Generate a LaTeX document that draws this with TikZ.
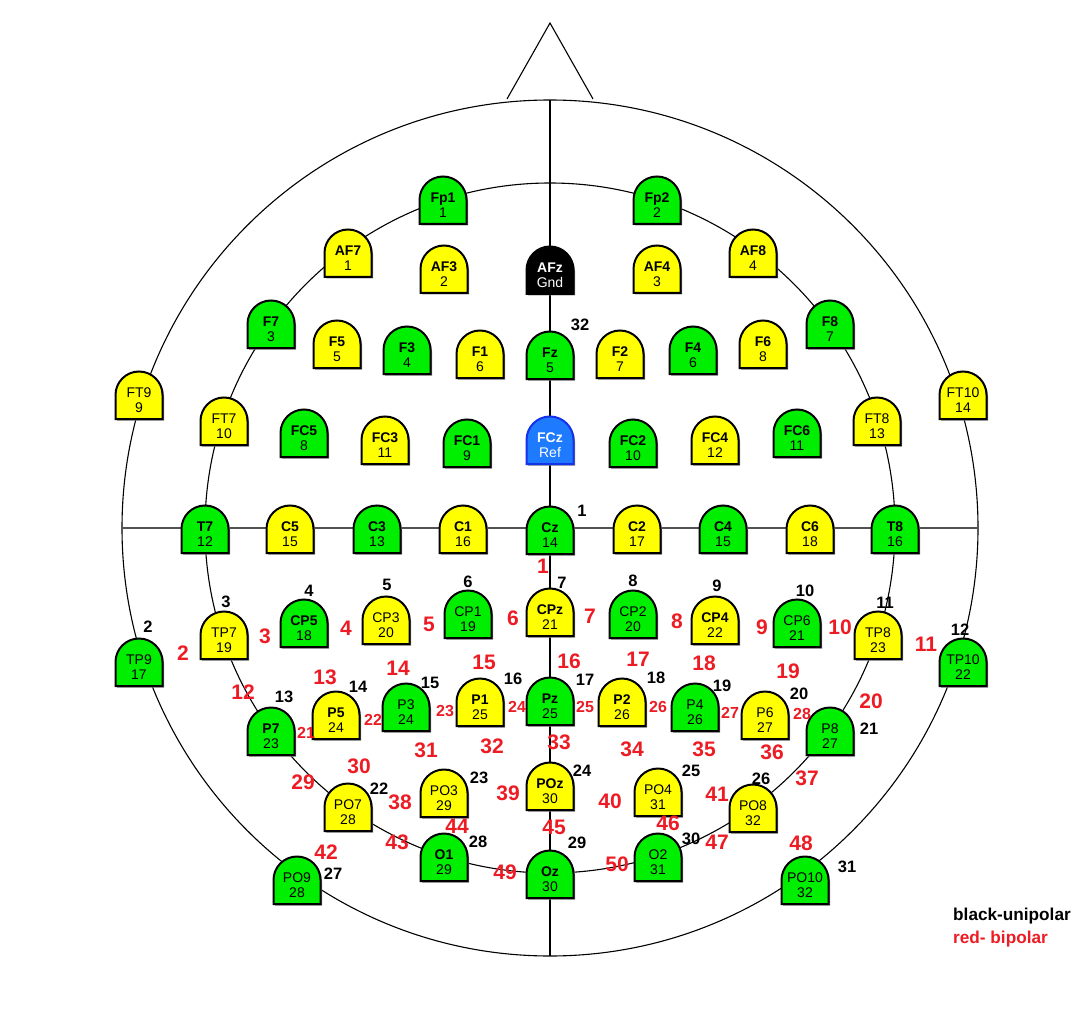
\documentclass[tikz,border=0pt]{standalone}
\usepackage{fontspec}
\setmainfont{Liberation Sans}
\definecolor{egreen}{RGB}{0,238,0}
\definecolor{eyellow}{RGB}{255,255,0}
\definecolor{eblue}{RGB}{30,122,255}
\definecolor{eblueb}{RGB}{20,50,235}
\definecolor{ered}{RGB}{237,28,36}
\definecolor{eshad}{RGB}{130,130,130}
\newcommand{\enfont}{\fontsize{14}{15}\selectfont}
\newcommand{\elec}[6][]{%
  \fill[eshad] (#2-22,#3+25.5) -- (#2-22,#3+1.5) arc[start angle=180,end angle=360,radius=23.5] -- (#2+25,#3+25.5) -- cycle;
  \path[eshape,#6] (#2-23.5,#3+24) -- (#2-23.5,#3) arc[start angle=180,end angle=360,radius=23.5] -- (#2+23.5,#3+24) -- cycle;
  \node[ename,#1] (#4) at (#2,#3+2.5) {#4};
  \node[enum,#1] (#4n) at (#2,#3+17.5) {#5};
}
\begin{document}
\begin{tikzpicture}[x=1pt,y=-1pt,
  headline/.style={draw=black,line width=1.1pt},
  axisH/.style={draw=black!68,line width=2.4pt},
  eshape/.style={draw=black,line width=2pt},
  gr/.style={fill=egreen},
  ye/.style={fill=eyellow},
  bkf/.style={fill=black},
  blf/.style={fill=eblue,draw=eblueb},
  ename/.style={anchor=base,inner sep=0pt,font=\enfont\bfseries},
  enum/.style={anchor=base,inner sep=0pt,font=\enfont},
  reg/.style={font=\enfont},
  wt/.style={text=white},
  uni/.style={inner sep=0pt,font=\fontsize{16.5}{17}\selectfont\bfseries,text=black},
  bip/.style={inner sep=0pt,font=\fontsize{21}{23}\selectfont\bfseries,text=ered},
  bips/.style={inner sep=0pt,font=\fontsize{16}{17}\selectfont\bfseries,text=ered},
  legend/.style={anchor=west,inner sep=0pt,font=\fontsize{17.2}{19}\selectfont\bfseries}
]
\useasboundingbox (0,0) rectangle (1092,1024);
\fill[white] (0,0) rectangle (1092,1024);
% head
\draw[headline] (550,528) circle[radius=428];
\draw[headline] (550,528) circle[radius=345];
\draw[axisH] (122,528) -- (978,528);
\draw[headline] (550,100) -- (550,956);
\draw[headline] (507,99) -- (550,23) -- (593,99);
% electrodes
\elec{443}{200}{Fp1}{1}{gr}
\elec{657}{200}{Fp2}{2}{gr}
\elec{348}{253}{AF7}{1}{ye}
\elec{444}{269}{AF3}{2}{ye}
\elec[wt]{550}{270}{AFz}{Gnd}{bkf}
\elec{657}{269}{AF4}{3}{ye}
\elec{753}{253}{AF8}{4}{ye}
\elec{271}{324}{F7}{3}{gr}
\elec{337}{344}{F5}{5}{ye}
\elec{407}{350}{F3}{4}{gr}
\elec{480}{354}{F1}{6}{ye}
\elec{550}{355}{Fz}{5}{gr}
\elec{620}{354}{F2}{7}{ye}
\elec{693}{350}{F4}{6}{gr}
\elec{763}{344}{F6}{8}{ye}
\elec{830}{324}{F8}{7}{gr}
\elec[reg]{139}{395}{FT9}{9}{ye}
\elec[reg]{224}{421}{FT7}{10}{ye}
\elec{304}{433}{FC5}{8}{gr}
\elec{385}{440}{FC3}{11}{ye}
\elec{467}{443}{FC1}{9}{gr}
\elec[wt]{550}{440}{FCz}{Ref}{blf}
\elec{633}{443}{FC2}{10}{gr}
\elec{715}{440}{FC4}{12}{ye}
\elec{797}{433}{FC6}{11}{gr}
\elec[reg]{877}{421}{FT8}{13}{ye}
\elec[reg]{963}{395}{FT10}{14}{ye}
\elec{205}{529}{T7}{12}{gr}
\elec{290}{529}{C5}{15}{ye}
\elec{377}{529}{C3}{13}{gr}
\elec{463}{529}{C1}{16}{ye}
\elec{550}{530}{Cz}{14}{gr}
\elec{637}{529}{C2}{17}{ye}
\elec{723}{529}{C4}{15}{gr}
\elec{810}{529}{C6}{18}{ye}
\elec{895}{529}{T8}{16}{gr}
\elec[reg]{139}{662}{TP9}{17}{gr}
\elec[reg]{224}{635}{TP7}{19}{ye}
\elec{304}{623}{CP5}{18}{gr}
\elec[reg]{386}{620}{CP3}{20}{ye}
\elec[reg]{468}{614}{CP1}{19}{gr}
\elec{550}{612}{CPz}{21}{ye}
\elec[reg]{633}{614}{CP2}{20}{gr}
\elec{715}{620}{CP4}{22}{ye}
\elec[reg]{797}{623}{CP6}{21}{gr}
\elec[reg]{878}{635}{TP8}{23}{ye}
\elec[reg]{963}{662}{TP10}{22}{gr}
\elec{271}{731}{P7}{23}{gr}
\elec{336}{715}{P5}{24}{ye}
\elec[reg]{406}{707}{P3}{24}{gr}
\elec{480}{702}{P1}{25}{ye}
\elec{550}{701}{Pz}{25}{gr}
\elec{622}{702}{P2}{26}{ye}
\elec[reg]{695}{707}{P4}{26}{gr}
\elec[reg]{765}{715}{P6}{27}{ye}
\elec[reg]{830}{731}{P8}{27}{gr}
\elec[reg]{297}{880}{PO9}{28}{gr}
\elec[reg]{348}{807}{PO7}{28}{ye}
\elec[reg]{444}{793}{PO3}{29}{ye}
\elec{550}{786}{POz}{30}{ye}
\elec[reg]{658}{792}{PO4}{31}{ye}
\elec[reg]{753}{808}{PO8}{32}{ye}
\elec[reg]{805}{880}{PO10}{32}{gr}
\elec{444}{857}{O1}{29}{gr}
\elec{550}{874}{Oz}{30}{gr}
\elec[reg]{658}{857}{O2}{31}{gr}
% unipolar (black) numbers
\node[uni] (u32) at (580,325) {32};
\node[uni] (u1) at (582,511) {1};
\node[uni] (u2) at (148,627) {2};
\node[uni] (u3) at (226,602) {3};
\node[uni] (u4) at (309,591) {4};
\node[uni] (u5) at (387,585) {5};
\node[uni] (u6) at (468,582) {6};
\node[uni] (u7) at (562,583) {7};
\node[uni] (u8) at (633,581) {8};
\node[uni] (u9) at (717,586) {9};
\node[uni] (u10) at (805,591) {10};
\node[uni] (u11) at (885,603) {11};
\node[uni] (u12) at (960,630) {12};
\node[uni] (u13) at (284,697) {13};
\node[uni] (u14) at (358,687) {14};
\node[uni] (u15) at (430,683) {15};
\node[uni] (u16) at (513,679) {16};
\node[uni] (u17) at (585,680) {17};
\node[uni] (u18) at (656,678) {18};
\node[uni] (u19) at (722,686) {19};
\node[uni] (u20) at (799,694) {20};
\node[uni] (u21) at (869,729) {21};
\node[uni] (u22) at (379,789) {22};
\node[uni] (u23) at (479,778) {23};
\node[uni] (u24) at (582,771) {24};
\node[uni] (u25) at (691,771) {25};
\node[uni] (u26) at (761,779) {26};
\node[uni] (u27) at (333,874) {27};
\node[uni] (u28) at (478,842) {28};
\node[uni] (u29) at (577,843) {29};
\node[uni] (u30) at (691,839) {30};
\node[uni] (u31) at (847,867) {31};
% bipolar (red) numbers
\node[bip] (b1) at (543,566) {1};
\node[bip] (b2) at (183,653) {2};
\node[bip] (b3) at (265,636) {3};
\node[bip] (b4) at (346,628) {4};
\node[bip] (b5) at (429,624) {5};
\node[bip] (b6) at (513,618) {6};
\node[bip] (b7) at (590,616) {7};
\node[bip] (b8) at (677,621) {8};
\node[bip] (b9) at (762,627) {9};
\node[bip] (b10) at (840,627) {10};
\node[bip] (b11) at (926,644) {11};
\node[bip] (b12) at (243,692) {12};
\node[bip] (b13) at (325,677) {13};
\node[bip] (b14) at (398,668) {14};
\node[bip] (b15) at (484,662) {15};
\node[bip] (b16) at (569,661) {16};
\node[bip] (b17) at (638,659) {17};
\node[bip] (b18) at (704,663) {18};
\node[bip] (b19) at (788,671) {19};
\node[bip] (b20) at (871,701) {20};
\node[bips] (b21) at (306,733) {21};
\node[bips] (b22) at (373,720) {22};
\node[bips] (b23) at (445,711) {23};
\node[bips] (b24) at (517,707) {24};
\node[bips] (b25) at (585,707) {25};
\node[bips] (b26) at (658,707) {26};
\node[bips] (b27) at (730,713) {27};
\node[bips] (b28) at (802,714) {28};
\node[bip] (b29) at (303,782) {29};
\node[bip] (b30) at (359,766) {30};
\node[bip] (b31) at (426,750) {31};
\node[bip] (b32) at (492,746) {32};
\node[bip] (b33) at (559,742) {33};
\node[bip] (b34) at (632,749) {34};
\node[bip] (b35) at (704,749) {35};
\node[bip] (b36) at (772,752) {36};
\node[bip] (b37) at (807,778) {37};
\node[bip] (b38) at (400,802) {38};
\node[bip] (b39) at (508,793) {39};
\node[bip] (b40) at (610,801) {40};
\node[bip] (b41) at (717,794) {41};
\node[bip] (b42) at (326,852) {42};
\node[bip] (b43) at (397,842) {43};
\node[bip] (b44) at (457,826) {44};
\node[bip] (b45) at (554,827) {45};
\node[bip] (b46) at (668,823) {46};
\node[bip] (b47) at (717,842) {47};
\node[bip] (b48) at (801,843) {48};
\node[bip] (b49) at (505,872) {49};
\node[bip] (b50) at (617,864) {50};
% legend
\node[legend,text=black] (leg1) at (953,916) {black-unipolar};
\node[legend,text=ered] (leg2) at (953,939) {red- bipolar};
\end{tikzpicture}
\end{document}
